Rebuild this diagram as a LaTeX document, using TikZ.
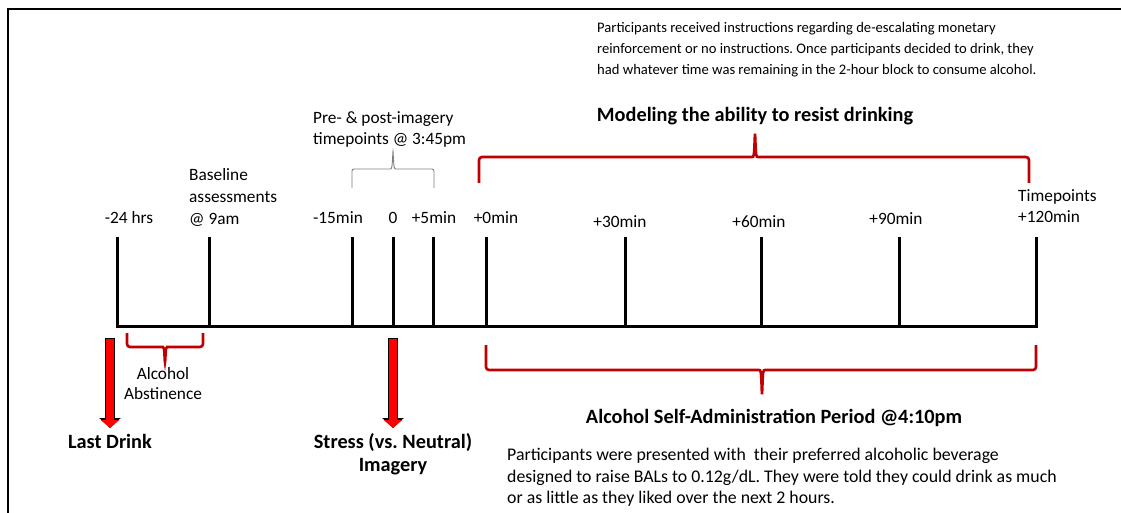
\documentclass[tikz,border=0pt]{standalone}
\usepackage{fontspec}
\setmainfont{Carlito}
\usetikzlibrary{arrows.meta}
\frenchspacing

\tikzset{
  lbl/.style={inner sep=0pt, font=\fontsize{17.3}{21}\selectfont},
  para/.style={inner sep=0pt, align=left, font=\fontsize{14.6}{20.7}\selectfont},
  heading/.style={inner sep=0pt, align=center, font=\fontsize{20.3}{23}\selectfont\bfseries},
  tickline/.style={line width=3pt},
  redbrace/.style={draw={rgb,255:red,192;green,0;blue,0}, line width=2.6pt, rounded corners=3pt},
  graybrace/.style={draw=gray, line width=0.9pt, rounded corners=2pt},
  bigarrow/.style={red, line width=8pt, shorten >=1pt, -{Triangle[length=8pt,width=18pt]},
    preaction={draw=black, line width=10pt, shorten <=-1pt, -{Triangle[length=10pt,width=21pt]}}}
}

\begin{document}
\begin{tikzpicture}[x=1pt, y=-1pt]
  \useasboundingbox (0,0) rectangle (1121,513);
  \draw[line width=2pt] (8,513) -- (8,9) -- (1121,9);

  \coordinate (start) at (117,237);
  \coordinate (stop) at (1036,237);
  \coordinate (ldtop) at (110,339);
  \coordinate (ldtip) at (110,429);
  \coordinate (sttop) at (393,339);
  \coordinate (sttip) at (393,429);

  \draw[line width=3pt, line join=miter] (start) |- (1036,326) -- (stop);
  \foreach \x in {209,352,393,433,486,625,761,899}
    \draw[tickline] (\x,237) -- (\x,326);

  \node[lbl, anchor=base] (m24) at (129,223) {-24 hrs};
  \node[lbl, anchor=north west, align=left] (baseline) at (189,168) {Baseline\\[1pt]assessments\\[1pt]@ 9am};
  \node[lbl, anchor=base] (m15) at (338,223) {-15min};
  \node[lbl, anchor=base] (zero) at (393,223) {0};
  \node[lbl, anchor=base] (p5) at (434,223) {+5min};
  \node[lbl, anchor=base] (p0) at (496,223) {+0min};
  \node[lbl, anchor=base] (p30) at (620,227) {+30min};
  \node[lbl, anchor=base] (p60) at (759,227) {+60min};
  \node[lbl, anchor=base] (p90) at (896,225) {+90min};
  \node[lbl, anchor=north west, align=left] (p120) at (1018,189.5) {Timepoints\\+120min};
  \node[lbl, anchor=north west, align=left] (prepost) at (313,111.5) {Pre- \& post-imagery\\timepoints @ 3:45pm};

  \draw[graybrace] (352,188) -- (352,169) -- (388,169) .. controls (392,169) .. (393,150) .. controls (394,169) .. (398,169) -- (434,169) -- (434,188);
  \draw[redbrace] (479,183) -- (479,157) -- (749,157) .. controls (754,157) .. (755,132) .. controls (756,157) .. (761,157) -- (1029,157) -- (1029,183);
  \draw[redbrace] (127,333) -- (127,347) -- (160,347) .. controls (164,347) .. (165,364) .. controls (166,347) .. (170,347) -- (203,347) -- (203,333);
  \draw[redbrace] (486,345) -- (486,370) -- (756,370) .. controls (761,370) .. (762,396) .. controls (763,370) .. (768,370) -- (1036,370) -- (1036,345);

  \node[heading, anchor=base] (model) at (755,122) {Modeling the ability to resist drinking};
  \node[heading, anchor=base] (selfadmin) at (774,423) {Alcohol Self-Administration Period @4:10pm};
  \node[lbl, anchor=north, align=center, font=\fontsize{17.3}{20}\selectfont] (abst) at (163,367.5) {Alcohol\\Abstinence};
  \node[heading, anchor=base] (lastdrink) at (110,448) {Last Drink};
  \node[heading, anchor=north] (stress) at (393,433.4) {Stress (vs. Neutral)\\Imagery};

  \draw[bigarrow] (ldtop) -- (ldtip);
  \draw[bigarrow] (sttop) -- (sttip);

  \node[para, anchor=north west] (instr) at (597,22.5) {Participants received instructions regarding de-escalating monetary\\reinforcement or no instructions. Once participants decided to drink, they\\had whatever time was remaining in the 2-hour block to consume alcohol.};
  \node[para, anchor=north west, font=\fontsize{17.8}{21.6}\selectfont] (bev) at (507,448) {Participants were presented with\ \ their preferred alcoholic beverage\\designed to raise BALs to 0.12g/dL. They were told they could drink as much\\or as little as they liked over the next 2 hours.};
\end{tikzpicture}
\end{document}
